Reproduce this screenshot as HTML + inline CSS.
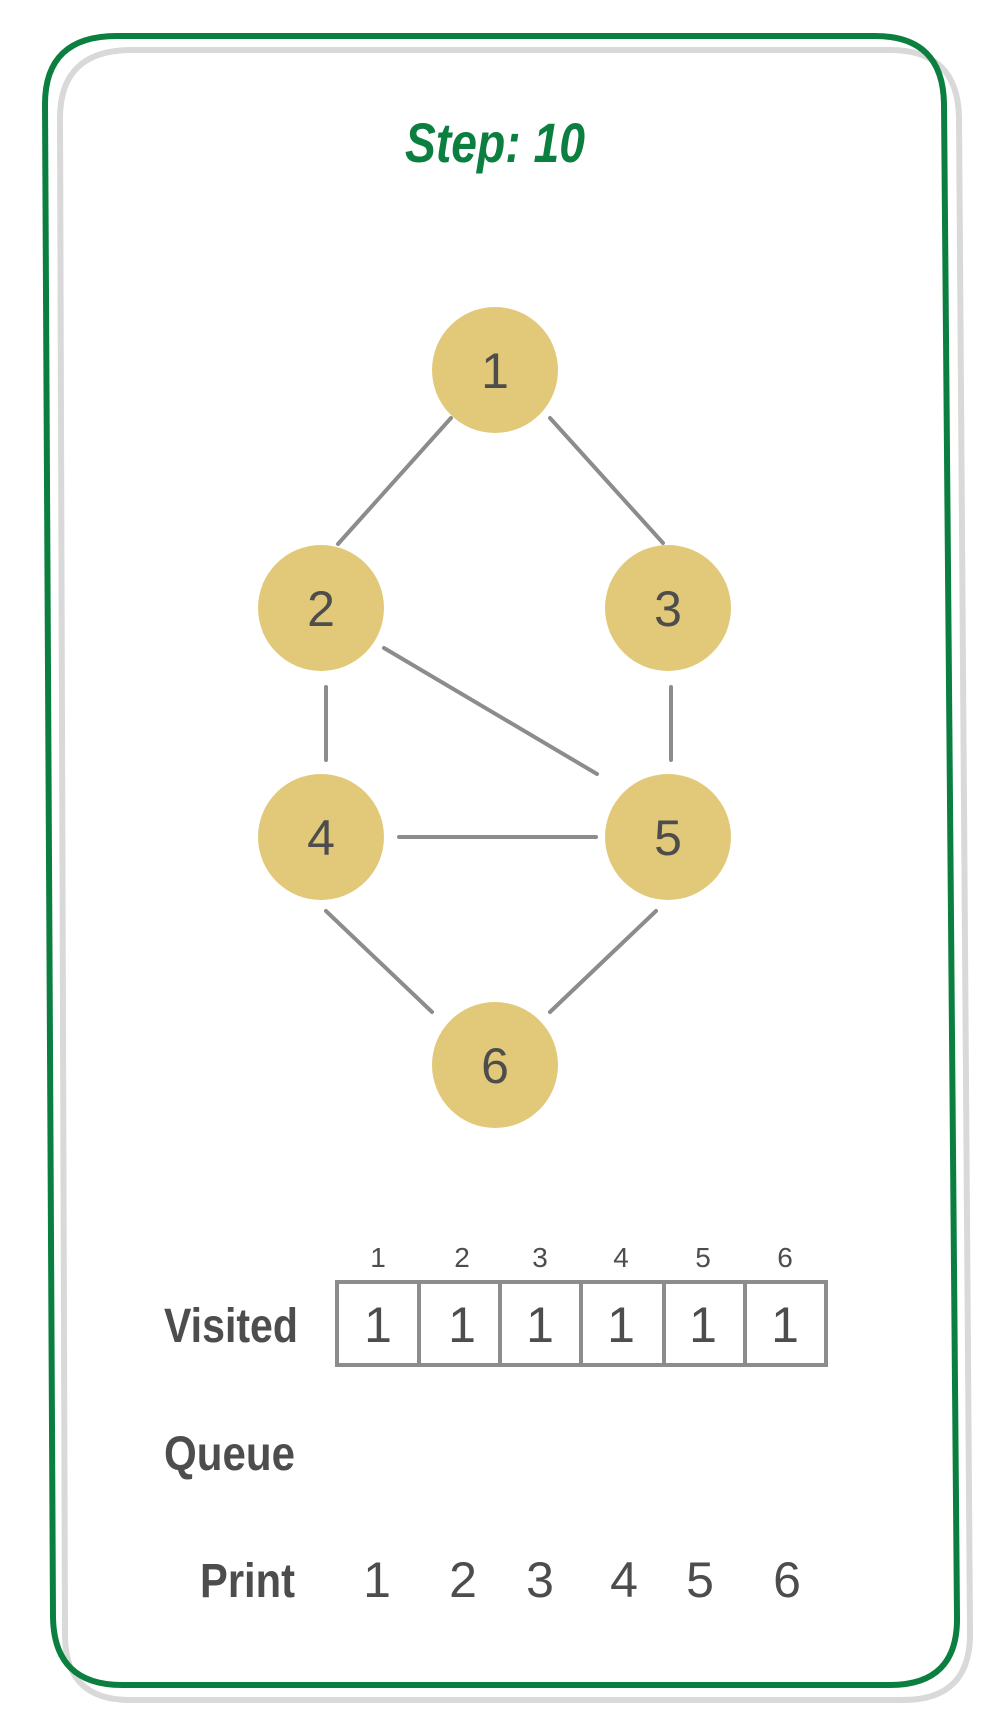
<!DOCTYPE html>
<html><head><meta charset="utf-8"><style>html,body{margin:0;padding:0;background:#fff}svg{display:block}</style></head>
<body>
<svg width="1000" height="1726" viewBox="0 0 1000 1726" xmlns="http://www.w3.org/2000/svg">
<path d="M132,50 L890,50 Q958,50 959,118 L970,1632 Q971,1700 903,1700 L130,1700 Q65,1700 65,1635 L60,118 Q60,50 132,50 Z" fill="none" stroke="#d9d9d9" stroke-width="6"/>
<path d="M117,36 L875,36 Q943,36 944,104 L957,1617 Q958,1685 890,1685 L122,1685 Q54,1685 53,1617 L45,104 Q45,36 117,36 Z" fill="none" stroke="#0b7f40" stroke-width="6"/>
<text x="495" y="162" text-anchor="middle" font-family="Liberation Sans, sans-serif" font-weight="bold" font-style="italic" font-size="56" fill="#0b7f40" textLength="180" lengthAdjust="spacingAndGlyphs">Step: 10</text>
<g stroke="#8c8c8c" stroke-width="4" stroke-linecap="round">
<line x1="451" y1="418" x2="338" y2="544"/>
<line x1="550" y1="418" x2="663" y2="543"/>
<line x1="384" y1="648" x2="597" y2="774"/>
<line x1="326" y1="687" x2="326" y2="760"/>
<line x1="671" y1="687" x2="671" y2="760"/>
<line x1="399" y1="837" x2="596" y2="837"/>
<line x1="326" y1="911" x2="432" y2="1012"/>
<line x1="656" y1="911" x2="550" y2="1012"/>
</g>
<g fill="#e2c979">
<circle cx="495" cy="370" r="63"/><circle cx="321" cy="608" r="63"/><circle cx="668" cy="608" r="63"/>
<circle cx="321" cy="837" r="63"/><circle cx="668" cy="837" r="63"/><circle cx="495" cy="1065" r="63"/>
</g>
<g font-family="Liberation Sans, sans-serif" font-size="50" fill="#4d4d4d" text-anchor="middle">
<text x="495" y="388">1</text><text x="321" y="626">2</text><text x="668" y="626">3</text>
<text x="321" y="855">4</text><text x="668" y="855">5</text><text x="495" y="1083">6</text>
</g>
<g fill="none" stroke="#8c8c8c" stroke-width="4">
<rect x="337" y="1282" width="489" height="83"/>
<line x1="419" y1="1282" x2="419" y2="1365"/><line x1="500" y1="1282" x2="500" y2="1365"/>
<line x1="581" y1="1282" x2="581" y2="1365"/><line x1="664" y1="1282" x2="664" y2="1365"/>
<line x1="745" y1="1282" x2="745" y2="1365"/>
</g>
<g font-family="Liberation Sans, sans-serif" font-size="28" fill="#4d4d4d" text-anchor="middle">
<text x="378" y="1267">1</text><text x="462" y="1267">2</text><text x="540" y="1267">3</text>
<text x="621" y="1267">4</text><text x="703" y="1267">5</text><text x="785" y="1267">6</text>
</g>
<g font-family="Liberation Sans, sans-serif" font-size="50" fill="#4d4d4d" text-anchor="middle">
<text x="378" y="1342">1</text><text x="462" y="1342">1</text><text x="540" y="1342">1</text>
<text x="621" y="1342">1</text><text x="703" y="1342">1</text><text x="785" y="1342">1</text>
<text x="377" y="1597">1</text><text x="463" y="1597">2</text><text x="540" y="1597">3</text>
<text x="624" y="1597">4</text><text x="700" y="1597">5</text><text x="787" y="1597">6</text>
</g>
<g font-family="Liberation Sans, sans-serif" font-weight="bold" font-size="48" fill="#4d4d4d">
<text x="164" y="1342" textLength="134" lengthAdjust="spacingAndGlyphs">Visited</text>
<text x="164" y="1470" textLength="131" lengthAdjust="spacingAndGlyphs">Queue</text>
<text x="200" y="1597" textLength="95" lengthAdjust="spacingAndGlyphs">Print</text>
</g>
</svg>
</body></html>
